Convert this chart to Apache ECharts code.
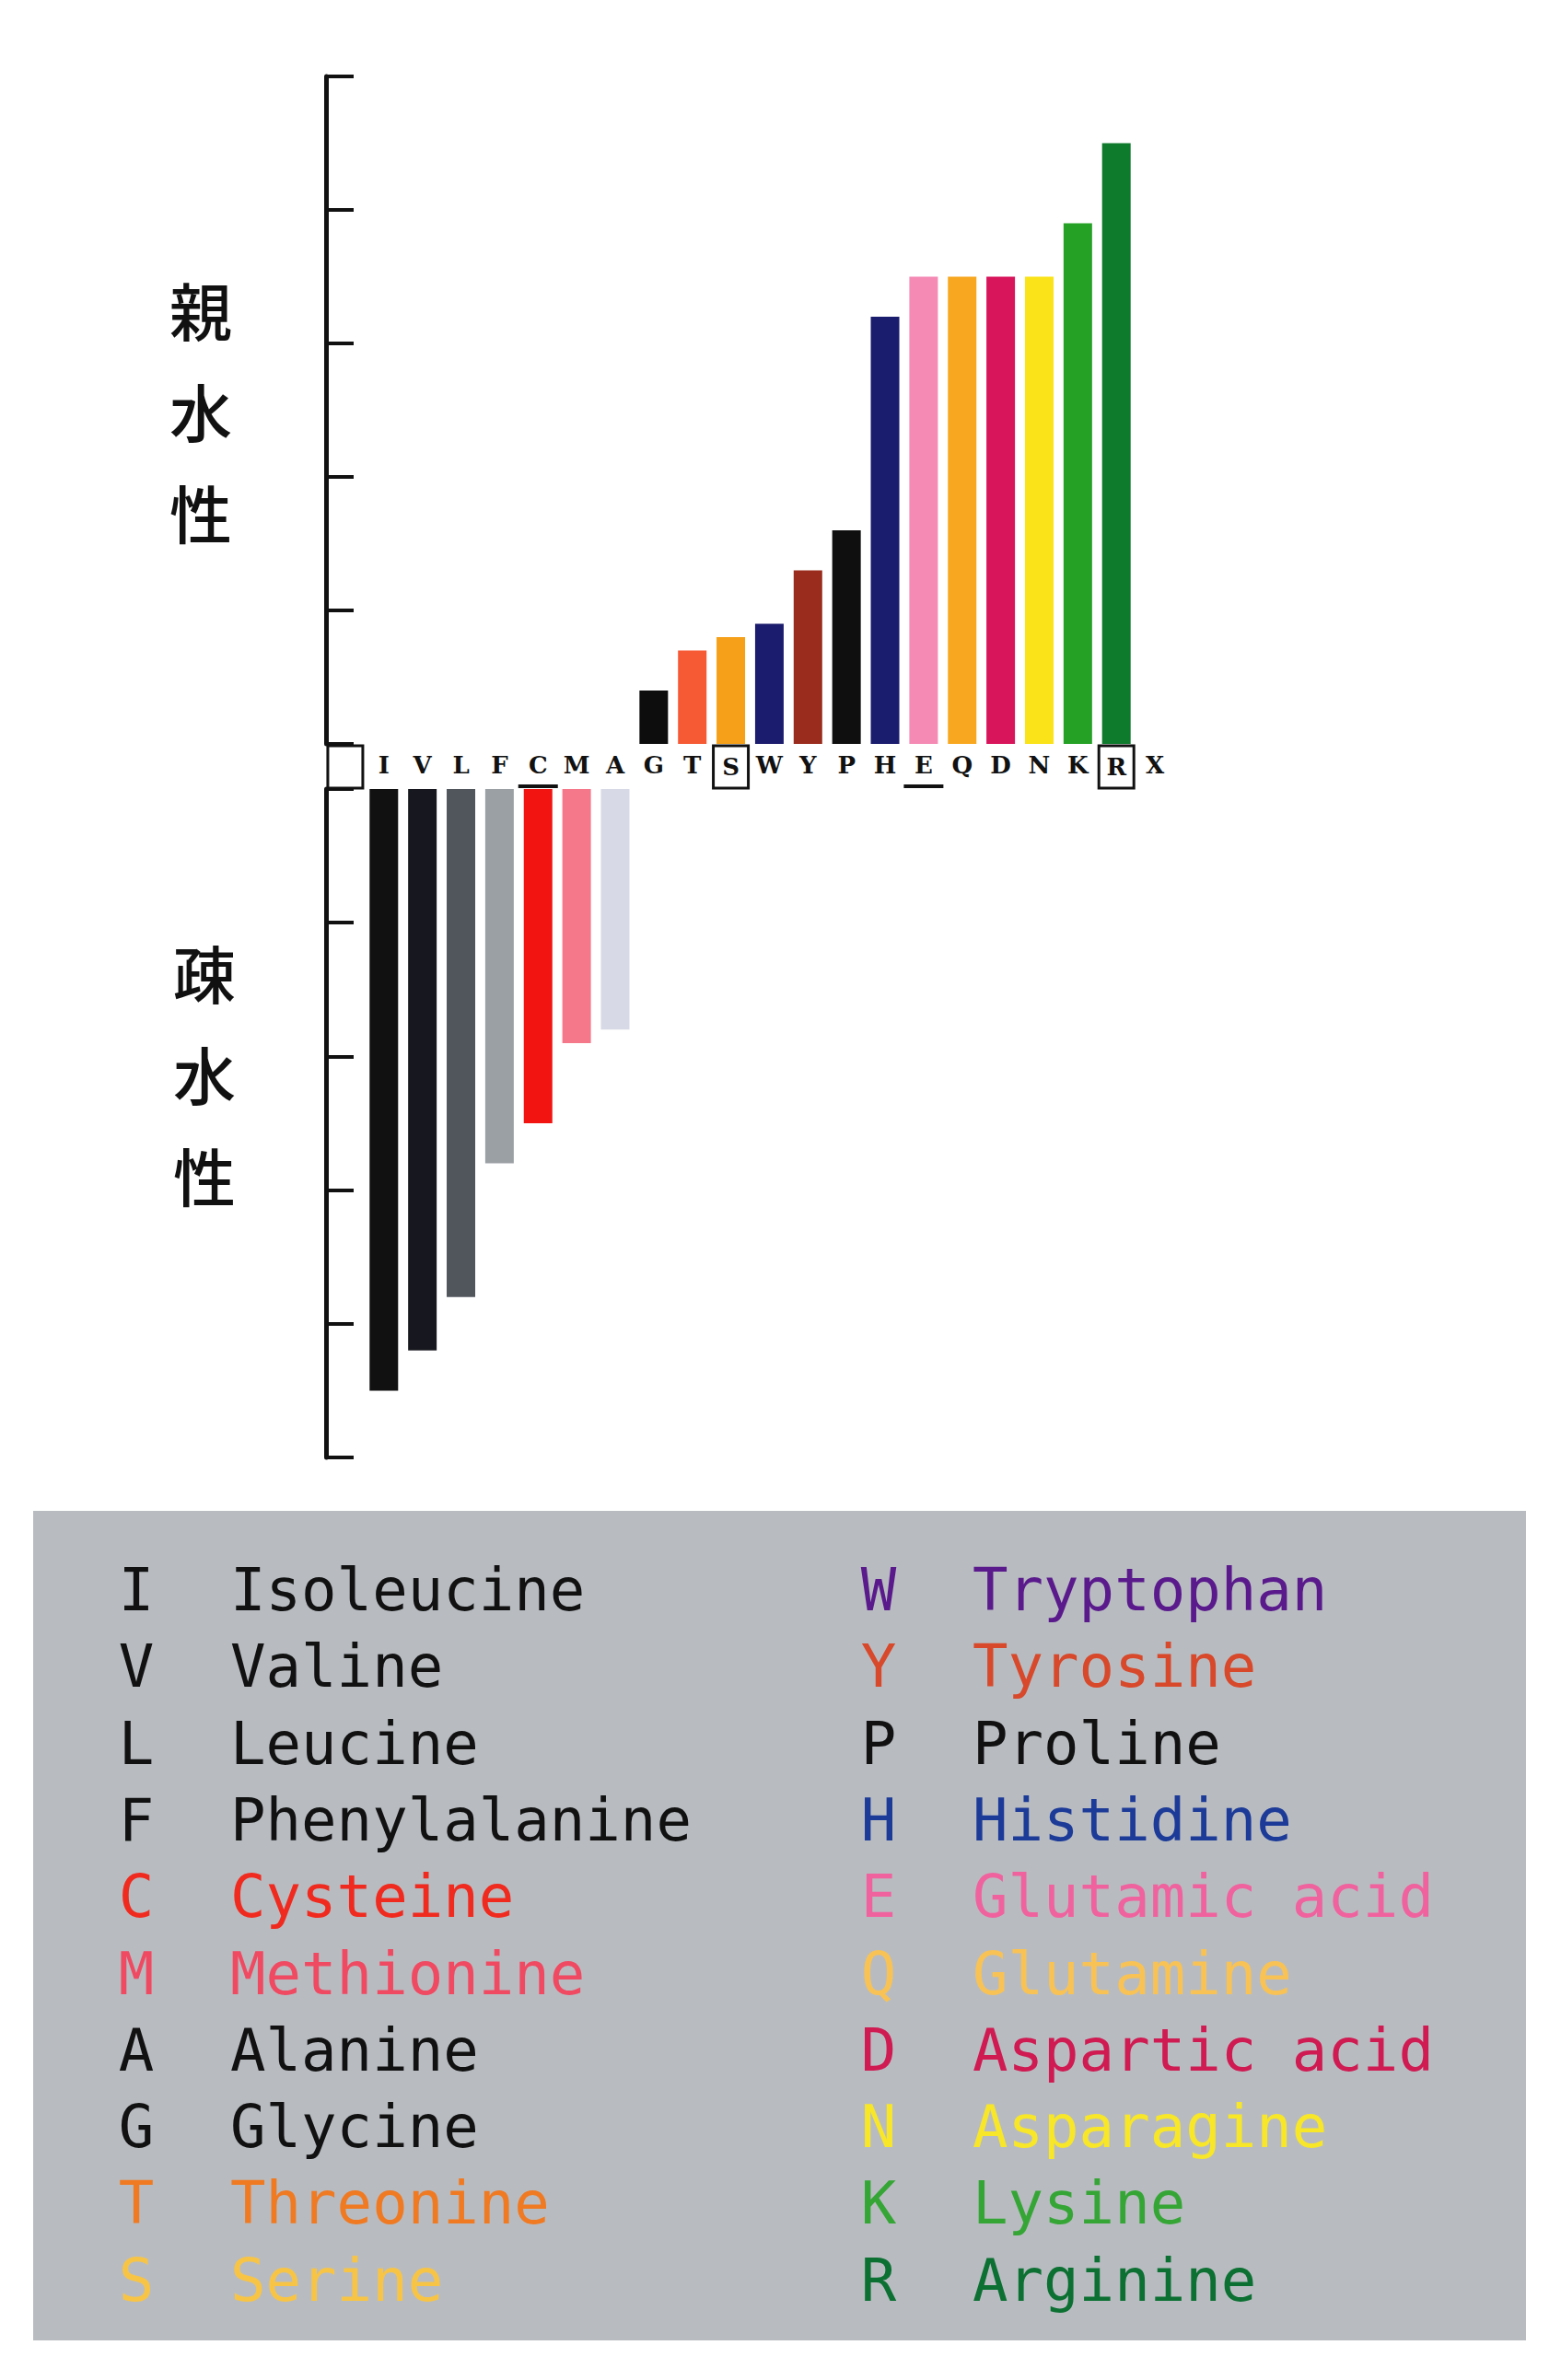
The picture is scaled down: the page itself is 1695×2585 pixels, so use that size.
<!DOCTYPE html>
<html><head><meta charset="utf-8">
<script src="https://cdn.jsdelivr.net/npm/echarts@6/dist/echarts.min.js"></script>
<style>html,body{margin:0;padding:0;background:#fff}#c{width:1695px;height:2585px}</style>
</head><body><div id="c"></div>
<script>
// ---- data ----
const categories = ['', 'I','V','L','F','C','M','A','G','T','S','W','Y','P','H','E','Q','D','N','K','R','X'];
const hydropathy = [null, 4.5, 4.2, 3.8, 2.8, 2.5, 1.9, 1.8, -0.4, -0.7, -0.8, -0.9, -1.3, -1.6, -3.2, -3.5, -3.5, -3.5, -3.5, -3.9, -4.5, null];
const barColors = [null, '#111111','#17171f','#50565c','#9ba0a5','#f21410','#f5788a','#d8d9e6','#0d0d0d','#f55a35','#f5a018','#1c1c6e','#9a2c1e','#0f0f0f','#1a1c6e','#f58ab5','#f8a820','#d8145a','#fae318','#25a125','#0e7a2c', null];
const boxedLabels = ['', 'S', 'R'];
const underlinedLabels = ['C', 'E'];
const axisTitles = ['親水性', '疎水性'];
const aminoCodes = ['I','V','L','F','C','M','A','G','T','S','W','Y','P','H','E','Q','D','N','K','R'];
const aminoNames = ['Isoleucine','Valine','Leucine','Phenylalanine','Cysteine','Methionine','Alanine','Glycine','Threonine','Serine',
                    'Tryptophan','Tyrosine','Proline','Histidine','Glutamic acid','Glutamine','Aspartic acid','Asparagine','Lysine','Arginine'];
const nameColors = ['#111111','#111111','#111111','#111111','#f02a1e','#f04a62','#111111','#111111','#f07a22','#f8c445',
                    '#5a1a8c','#d8482a','#111111','#1c3a98','#f0629e','#f8c255','#d01a52','#f8e628','#35a635','#0c7032'];

// ---- layout ----
const chart = echarts.init(document.getElementById('c'), null, {renderer: 'svg'});
const GL = 354, GW = 921;
const cjk = {fontFamily: '"Noto Sans CJK JP"', fontSize: 68, fontWeight: 500, lineHeight: 110, color: '#111', align: 'center', verticalAlign: 'middle'};
const labelFont = '"DejaVu Serif"';

function labelFmt(v) {
  if (boxedLabels.indexOf(v) >= 0) return '{box|' + (v === '' ? ' ' : v) + '}';
  if (underlinedLabels.indexOf(v) >= 0) return '{t|' + v + '}\n{u| }';
  return '{t|' + v + '}\n{s| }';
}

const upperData = hydropathy.map((v, i) => (v !== null && v < 0) ? {value: v, itemStyle: {color: barColors[i]}} : '-');
const lowerData = hydropathy.map((v, i) => (v !== null && v > 0) ? {value: v, itemStyle: {color: barColors[i]}} : '-');

const axisLineStyle = {show: true, lineStyle: {color: '#111', width: 5}};
const axisTickStyle = {show: true, inside: true, length: 30, lineStyle: {color: '#111', width: 4}};

const graphics = [{type: 'rect', shape: {x: 36, y: 1641, width: 1621, height: 901}, style: {fill: '#b8bcc1'}, z: 0}];
aminoCodes.forEach((code, i) => {
  const col = Math.floor(i / 10), row = i % 10;
  const y = 1727 + row * 83.3;
  const common = {fontFamily: '"DejaVu Sans Mono"', fontSize: 64, fill: nameColors[i], verticalAlign: 'middle', textVerticalAlign: 'middle'};
  graphics.push({type: 'text', x: col ? 954 : 148, y: y, z: 2,
    style: Object.assign({text: code, align: 'center', textAlign: 'center'}, common)});
  graphics.push({type: 'text', x: col ? 1056 : 250, y: y, z: 2,
    style: Object.assign({text: aminoNames[i], align: 'left', textAlign: 'left'}, common)});
});

chart.setOption({
  animation: false,
  backgroundColor: '#ffffff',
  grid: [
    {left: GL, width: GW, top: 83, height: 725},
    {left: GL, width: GW, top: 857, height: 726}
  ],
  xAxis: [
    {type: 'category', gridIndex: 0, data: categories, position: 'bottom',
     axisLine: {show: false}, axisTick: {show: false}, splitLine: {show: false},
     axisLabel: {interval: 0, margin: 2, formatter: labelFmt, color: '#111',
       rich: {
         t: {fontFamily: labelFont, fontSize: 26, fontWeight: 'bold', color: '#111', height: 42, lineHeight: 42, align: 'center', verticalAlign: 'middle'},
         u: {height: 4, lineHeight: 4, width: 43, backgroundColor: '#111', fontSize: 2},
         s: {height: 4, lineHeight: 4, width: 43, fontSize: 2},
         box: {fontFamily: labelFont, fontSize: 26, fontWeight: 'bold', color: '#111', width: 38, height: 46, lineHeight: 46, align: 'center', verticalAlign: 'middle', borderColor: '#111', borderWidth: 3}
       }}},
    {type: 'category', gridIndex: 1, data: categories, show: false}
  ],
  yAxis: [
    {type: 'value', gridIndex: 0, min: -5, max: 0, interval: 1, inverse: true,
     axisLine: axisLineStyle, axisTick: axisTickStyle, axisLabel: {show: false}, splitLine: {show: false},
     name: axisTitles[0].split('').join('\n'), nameLocation: 'middle', nameRotate: 0, nameGap: 136,
     nameTextStyle: cjk},
    {type: 'value', gridIndex: 1, min: 0, max: 5, interval: 1, inverse: true,
     axisLine: axisLineStyle, axisTick: axisTickStyle, axisLabel: {show: false}, splitLine: {show: false},
     name: axisTitles[1].split('').join('\n') + '\n ', nameLocation: 'middle', nameRotate: 0, nameGap: 132,
     nameTextStyle: cjk}
  ],
  series: [
    {type: 'bar', xAxisIndex: 0, yAxisIndex: 0, data: upperData, barWidth: 31},
    {type: 'bar', xAxisIndex: 1, yAxisIndex: 1, data: lowerData, barWidth: 31}
  ],
  graphic: graphics
});
</script>
</body></html>
